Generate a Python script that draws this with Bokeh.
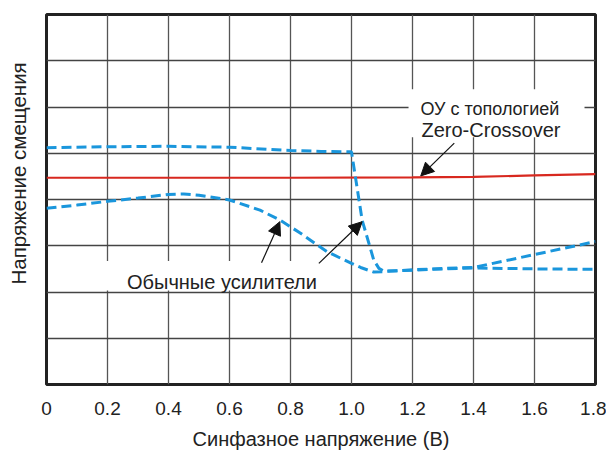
from bokeh.plotting import figure
from bokeh.models import FixedTicker, Label, Arrow, NormalHead, Range1d, Title
from bokeh.embed import file_html
from bokeh.resources import INLINE

# ---- data ----
x_ticks = [0, 0.2, 0.4, 0.6, 0.8, 1.0, 1.2, 1.4, 1.6, 1.8]
x_tick_labels = ["0", "0.2", "0.4", "0.6", "0.8", "1.0", "1.2", "1.4", "1.6", "1.8"]
y_grid = [1, 2, 3, 4, 5, 6, 7]

zc_x = [0, 0.4, 0.8, 1.2, 1.4, 1.6, 1.8]
zc_y = [4.47, 4.47, 4.47, 4.48, 4.49, 4.52, 4.55]

convA_x = [0, 0.2, 0.4, 0.6, 0.8, 0.9, 1.0, 1.035, 1.073, 1.09, 1.106, 1.2, 1.3, 1.4, 1.6, 1.8]
convA_y = [5.12, 5.14, 5.15, 5.13, 5.06, 5.04, 5.03, 3.55, 2.69, 2.51, 2.45, 2.47, 2.50, 2.52, 2.50, 2.49]

convB_x = [0, 0.1, 0.2, 0.3, 0.4, 0.45, 0.5, 0.6, 0.7, 0.767, 0.833, 0.92, 1.0, 1.03, 1.073, 1.1, 1.2, 1.3, 1.4, 1.6, 1.8]
convB_y = [3.81, 3.88, 3.96, 4.03, 4.11, 4.12, 4.09, 3.99, 3.77, 3.55, 3.27, 2.87, 2.62, 2.53, 2.43, 2.44, 2.48, 2.51, 2.53, 2.81, 3.09]

label_zc = ["ОУ с топологией", "Zero-Crossover"]
label_conv = "Обычные усилители"
x_title = "Синфазное напряжение (В)"
y_title = "Напряжение смещения"

FONT = "Liberation Sans"
BLUE = "#1a96dc"
RED = "#d8281f"
TXT = "#222222"

p = figure(width=606, height=453, output_backend="svg", toolbar_location=None,
           x_range=Range1d(0, 1.8), y_range=Range1d(0, 8),
           min_border_left=46, min_border_right=11, min_border_top=14, min_border_bottom=69)
p.background_fill_color = "white"
p.border_fill_color = "white"
p.outline_line_color = "#222222"
p.outline_line_width = 3

# grid
p.xgrid.ticker = FixedTicker(ticks=x_ticks)
p.ygrid.ticker = FixedTicker(ticks=y_grid)
p.xgrid.grid_line_color = "#555555"
p.ygrid.grid_line_color = "#444444"
p.xgrid.grid_line_width = 1.3
p.ygrid.grid_line_width = 1.3

# axes
p.yaxis.visible = False
xa = p.xaxis[0]
xa.ticker = FixedTicker(ticks=x_ticks)
xa.major_label_overrides = {t: l for t, l in zip(x_ticks, x_tick_labels)}
xa.axis_line_color = None
xa.major_tick_line_color = None
xa.minor_tick_line_color = None
xa.major_label_standoff = 11
xa.major_label_text_font = FONT
xa.major_label_text_font_size = "19px"
xa.major_label_text_color = TXT
xa.axis_label = x_title
xa.axis_label_text_font = FONT
xa.axis_label_text_font_size = "20px"
xa.axis_label_text_font_style = "normal"
xa.axis_label_text_color = TXT
xa.axis_label_standoff = 10

# spacer next to the frame, then the y title further out
p.add_layout(Title(text=" ", text_font_size="6px", standoff=0), "left")
p.add_layout(Title(text=y_title, align="left", offset=100, vertical_align="top", text_font=FONT,
                   text_font_size="20.5px", text_font_style="normal", text_color=TXT, standoff=13), "left")

# white boxes behind annotation texts
p.quad(left=[1.187, 0.177], right=[1.764, 0.93], bottom=[5.346, 2.03], top=[6.382, 2.67],
       fill_color="white", line_color=None)

# data lines
p.line(zc_x, zc_y, line_color=RED, line_width=2.2)
p.line(convA_x, convA_y, line_color=BLUE, line_width=3, line_dash="10 5")
p.line(convB_x, convB_y, line_color=BLUE, line_width=3, line_dash="10 5")

# arrows
for (x0, y0, x1, y1) in [(1.337, 5.22, 1.227, 4.51), (0.705, 2.63, 0.765, 3.52), (0.893, 2.62, 1.035, 3.52)]:
    p.add_layout(Arrow(x_start=x0, y_start=y0, x_end=x1, y_end=y1, line_width=1.2, line_color="#111111",
                       end=NormalHead(size=13, fill_color="#111111", line_color="#111111")))

# labels
p.add_layout(Label(x=1.226, y=5.966, text=label_zc[0], text_font=FONT, text_font_size="18px",
                   text_color=TXT, text_baseline="alphabetic"))
p.add_layout(Label(x=1.2295, y=5.497, text=label_zc[1], text_font=FONT, text_font_size="20px",
                   text_color=TXT, text_baseline="alphabetic"))
p.add_layout(Label(x=0.264, y=2.223, text=label_conv, text_font=FONT, text_font_size="20px",
                   text_color=TXT, text_baseline="alphabetic"))

open("out.html", "w").write(file_html(p, INLINE))
